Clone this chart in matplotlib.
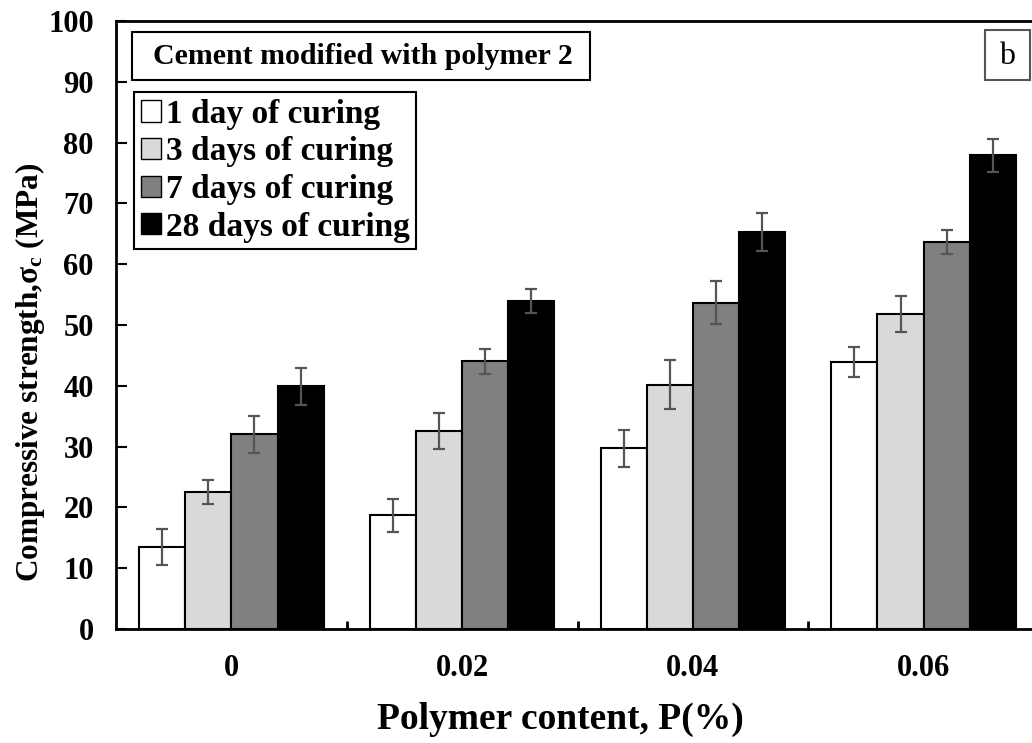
import numpy as np
import matplotlib
matplotlib.use("Agg")
from matplotlib import pyplot as plt
from matplotlib.patches import Patch, Rectangle

plt.rcParams['font.family'] = ['Liberation Serif', 'DejaVu Serif']
plt.rcParams['font.weight'] = 'bold'
plt.rcParams['axes.labelweight'] = 'bold'
plt.rcParams['mathtext.fontset'] = 'custom'
plt.rcParams['mathtext.rm'] = 'Liberation Serif:bold'
plt.rcParams['mathtext.bf'] = 'Liberation Serif:bold'
plt.rcParams['mathtext.it'] = 'Liberation Serif:bold'

# polymer content groups
groups = ['0', '0.02', '0.04', '0.06']
series = ['1 day of curing', '3 days of curing', '7 days of curing', '28 days of curing']

# compressive strength (MPa) and error bars
day1 = [13.5, 18.7, 29.7, 43.9]
day3 = [22.5, 32.6, 40.2, 51.8]
day7 = [32.0, 44.0, 53.7, 63.6]
day28 = [39.9, 54.0, 65.3, 77.9]
err1 = [3.0, 2.7, 3.1, 2.5]
err3 = [2.0, 3.0, 4.0, 3.0]
err7 = [3.0, 2.0, 3.5, 2.0]
err28 = [3.1, 2.0, 3.1, 2.7]

values = [day1, day3, day7, day28]
errors = [err1, err3, err7, err28]
colors = ['white', '#d9d9d9', '#808080', 'black']

W, H = 1032, 743
fig = plt.figure(figsize=(W / 100, H / 100), dpi=100)
ax = fig.add_axes([116 / W, 1 - 629 / H, 923 / W, 608 / H])

x = np.arange(len(groups))
w = 0.2
for i in range(4):
    ax.bar(x - 0.3 + i * w, values[i], w, color=colors[i], edgecolor='black',
           linewidth=1.5, zorder=2)
    ax.errorbar(x - 0.3 + i * w, values[i], yerr=errors[i], fmt='none',
                ecolor='#555555', elinewidth=1.6, capsize=4, capthick=1.6, zorder=3)

ax.set_xlim(-0.5, 3.5)
ax.set_ylim(0, 100)
ax.set_yticks(np.arange(0, 101, 10))
ax.set_xticks(x)
ax.set_xticklabels(groups)
ax.set_xticks([0.5, 1.5, 2.5], minor=True)
ax.tick_params(axis='x', which='major', length=0, pad=18, labelsize=22)
ax.tick_params(axis='x', which='minor', direction='in', length=6, width=2)
ax.tick_params(axis='y', direction='in', length=8, width=1.5, labelsize=22, pad=16)
for s in ax.spines.values():
    s.set_linewidth(2)

ax.set_xlabel('Polymer content, P(%)', fontsize=27)
ax.xaxis.set_label_coords((560 - 116) / 923, (629 - 702) / 608)
ax.set_ylabel(r'Compressive strength,$\sigma_c$ (MPa)', fontsize=22.5, va='center')
ax.yaxis.set_label_coords((30 - 116) / 923, (629 - 372) / 608)

handles = [Patch(facecolor=c, edgecolor='black', linewidth=1) for c in colors]
leg = ax.legend(handles, series, loc='upper left', bbox_to_anchor=(134 / W, 1 - 92 / H),
                bbox_transform=fig.transFigure, fancybox=False, framealpha=1,
                edgecolor='black', fontsize=24, handlelength=0.6, handleheight=0.6,
                handletextpad=0.15, labelspacing=0.2, borderpad=0.2, borderaxespad=0)
leg.get_frame().set_linewidth(1.5)

# caption box and panel letter
fig.add_artist(Rectangle((132 / W, 1 - 80 / H), 458 / W, 48 / H, transform=fig.transFigure,
                         facecolor='white', edgecolor='black', linewidth=1.5, zorder=5))
fig.text(153 / W, 1 - 57 / H, 'Cement modified with polymer 2', fontsize=21.5,
         va='center', ha='left', zorder=6)
fig.add_artist(Rectangle((985 / W, 1 - 80 / H), 45 / W, 50 / H, transform=fig.transFigure,
                         facecolor='white', edgecolor='#555555', linewidth=1.5, zorder=5))
fig.text(1007.5 / W, 1 - 56 / H, 'b', fontsize=23, fontweight='normal',
         va='center', ha='center', zorder=6)

fig.savefig('out.png', dpi=100)
